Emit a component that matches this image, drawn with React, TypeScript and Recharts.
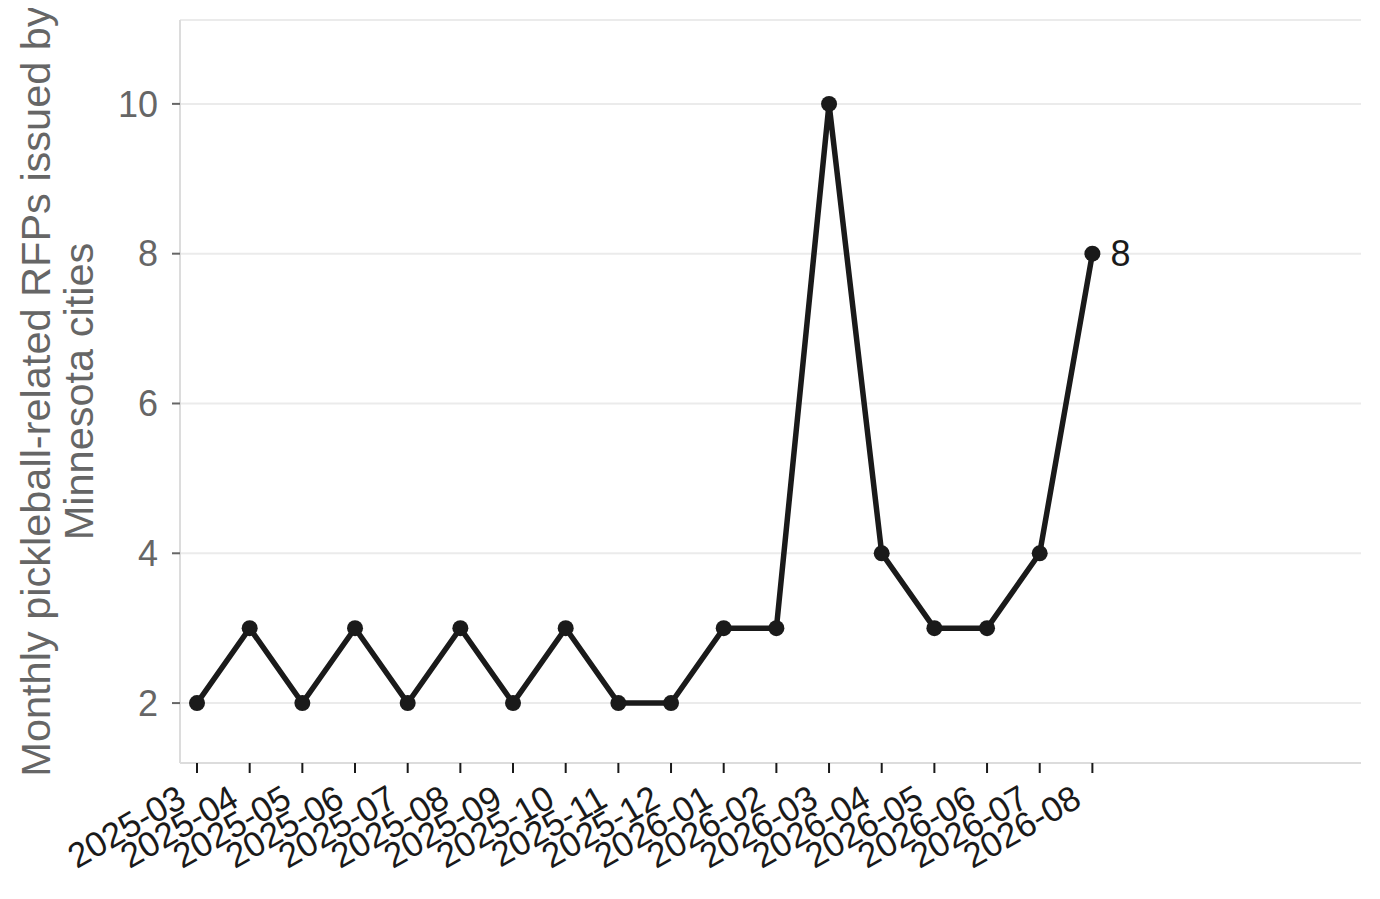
import React from "react";
import { LineChart, Line, XAxis, YAxis, CartesianGrid } from "recharts";

const months: string[] = [
  "2025-03", "2025-04", "2025-05", "2025-06", "2025-07", "2025-08",
  "2025-09", "2025-10", "2025-11", "2025-12", "2026-01", "2026-02",
  "2026-03", "2026-04", "2026-05", "2026-06", "2026-07", "2026-08",
];
const counts: number[] = [2, 3, 2, 3, 2, 3, 2, 3, 2, 2, 3, 3, 10, 4, 3, 3, 4, 8];
const yTicks: number[] = [2, 4, 6, 8, 10];
const yLabelLines: string[] = ["Monthly pickleball-related RFPs issued by", "Minnesota cities"];

const data = months.map((m, i) => ({ i, month: m, value: counts[i] }));
const xTicks = months.map((_, i) => i);

const FONT = "'Liberation Sans', Arial, Helvetica, sans-serif";

const XTick = (props: any) => {
  const { x, y, payload } = props;
  const tx = x - 9;
  const ty = y + 30;
  return (
    <text
      x={tx}
      y={ty}
      transform={`rotate(-30 ${tx} ${ty})`}
      textAnchor="end"
      fontSize={35}
      fontFamily={FONT}
      fill="#1a1a1a"
    >
      {months[payload.value]}
    </text>
  );
};

const YLabel = (props: any) => {
  const vb = props.viewBox || {};
  const cy = (vb.y ?? 12) + (vb.height ?? 743) / 2;
  return (
    <g>
      <text
        x={42}
        y={cy}
        transform={`rotate(-90 42 ${cy})`}
        textAnchor="middle"
        fontSize={41.5}
        fontFamily={FONT}
        fill="#666666"
      >
        {yLabelLines[0]}
      </text>
      <text
        x={85}
        y={cy}
        transform={`rotate(-90 85 ${cy})`}
        textAnchor="middle"
        fontSize={41.5}
        fontFamily={FONT}
        fill="#666666"
      >
        {yLabelLines[1]}
      </text>
    </g>
  );
};

const EndLabel = (props: any) => {
  const { x, y, index, value } = props;
  if (index !== counts.length - 1) return null;
  return (
    <text
      x={x + 18}
      y={y}
      dy="0.355em"
      textAnchor="start"
      fontSize={36}
      fontFamily={FONT}
      fill="#1a1a1a"
    >
      {value}
    </text>
  );
};

export default function App() {
  return (
    <div style={{ width: 1372, height: 883, fontFamily: FONT }}>
      <LineChart
        width={1372}
        height={883}
        data={data}
        margin={{ top: 12, right: 19, bottom: 0, left: 0 }}
      >
        <CartesianGrid vertical={false} stroke="#ebebeb" strokeWidth={2} />
        <XAxis
          dataKey="i"
          type="number"
          domain={[-0.323, 22.1]}
          ticks={xTicks}
          interval={0}
          allowDataOverflow
          height={128}
          axisLine={{ stroke: "#dcdcdc", strokeWidth: 2 }}
          tickLine={{ stroke: "#1a1a1a", strokeWidth: 2 }}
          tickSize={10}
          tick={<XTick />}
        />
        <YAxis
          type="number"
          domain={[1.2, 11.12]}
          ticks={yTicks}
          allowDataOverflow
          width={172}
          axisLine={{ stroke: "#dcdcdc", strokeWidth: 2 }}
          tickLine={{ stroke: "#666666", strokeWidth: 2 }}
          tickSize={8}
          tickMargin={14}
          tick={{ fill: "#666666", fontSize: 36, fontFamily: FONT }}
          label={<YLabel />}
        />
        <Line
          type="linear"
          dataKey="value"
          stroke="#1a1a1a"
          strokeWidth={5.5}
          dot={{ r: 8, fill: "#1a1a1a", stroke: "none" }}
          activeDot={false}
          isAnimationActive={false}
          label={<EndLabel />}
        />
      </LineChart>
    </div>
  );
}
